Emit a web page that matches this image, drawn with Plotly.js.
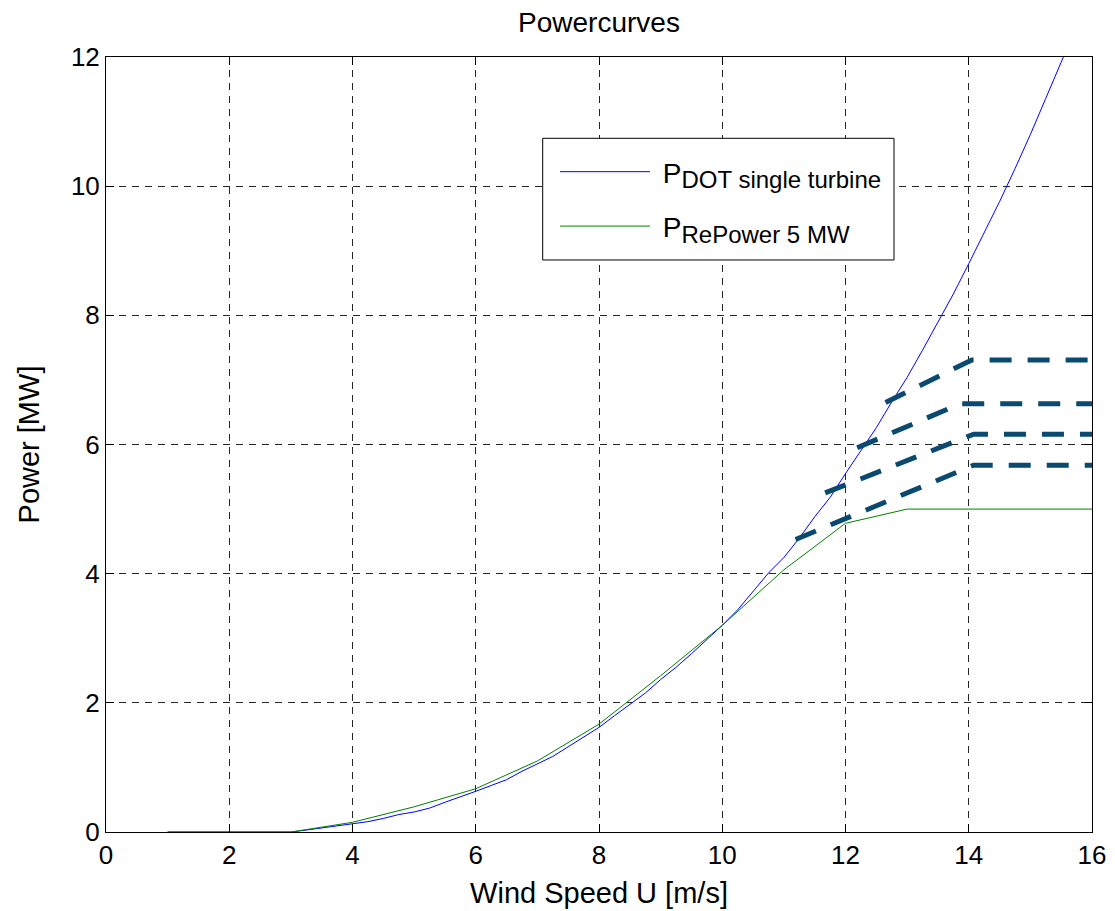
<!DOCTYPE html>
<html>
<head>
<meta charset="utf-8">
<script src="https://cdn.plot.ly/plotly-3.0.1.min.js"></script>
<style>
  html, body { margin: 0; padding: 0; background: #fff; }
  #chart { width: 1115px; height: 911px; }
</style>
</head>
<body>
<div id="chart"></div>
<script>
// Wind speed grid for DOT single turbine curve (m/s)
const dotSpeed = [1, 1.5, 2, 2.5, 3, 3.25, 3.5, 3.75, 4, 4.25, 4.5, 4.75, 5, 5.25, 5.5, 5.75,
  6, 6.25, 6.5, 6.75, 7, 7.25, 7.5, 7.75, 8, 8.25, 8.5, 8.75, 9, 9.25, 9.5, 9.75,
  10, 10.25, 10.5, 10.75, 11, 11.25, 11.5, 11.75, 12, 12.25, 12.5, 12.75, 13, 13.25, 13.5, 13.75,
  14, 14.25, 14.5, 14.75, 15, 15.25, 15.5, 15.75, 16];
// Power of DOT single turbine (MW)
const dotPower = [0, 0, 0, 0, 0, 0.03, 0.06, 0.09, 0.13, 0.16, 0.21, 0.27, 0.31, 0.37, 0.46, 0.54,
  0.63, 0.72, 0.81, 0.94, 1.05, 1.17, 1.32, 1.47, 1.62, 1.80, 1.98, 2.15, 2.36, 2.55, 2.76, 2.98,
  3.2, 3.44, 3.72, 4.01, 4.25, 4.55, 4.88, 5.18, 5.55, 5.9, 6.26, 6.66, 7.04, 7.46, 7.9, 8.33,
  8.8, 9.27, 9.76, 10.27, 10.8, 11.36, 11.92, 12.48, 13.1];

// RePower 5 MW curve
const repSpeed = [1, 2, 3, 4, 5, 6, 7, 8, 9, 10, 11, 12, 13, 14, 15, 16];
const repPower = [0, 0, 0, 0.15, 0.39, 0.67, 1.1, 1.67, 2.42, 3.2, 4.06, 4.78, 5.0, 5.0, 5.0, 5.0];

// Dashed limited power curves: start speed, corner speed, end speed, start power, rated power
const limStartSpeed = [12.65, 12.19, 11.67, 11.19];
const limCornerSpeed = [14.05, 13.86, 14.08, 14.08];
const limEndSpeed = [16, 16, 16, 16];
const limStartPower = [6.65, 5.95, 5.25, 4.53];
const limRatedPower = [7.31, 6.63, 6.16, 5.68];

const xTicks = [0, 2, 4, 6, 8, 10, 12, 14, 16];
const yTicks = [0, 2, 4, 6, 8, 10, 12];

const legendNames = ['DOT single turbine', 'RePower 5 MW'];

const FONT = 'Liberation Sans, Arial, Helvetica, sans-serif';

function legendLabel(sub) {
  return '&nbsp;P<sub><span style="font-size:24px">' + sub + '</span></sub>';
}

const traces = [
  {
    x: dotSpeed, y: dotPower, type: 'scatter', mode: 'lines',
    name: legendLabel(legendNames[0]),
    line: { color: '#0000ff', width: 1 },
    legendgroup: 'a'
  },
  {
    x: repSpeed, y: repPower, type: 'scatter', mode: 'lines',
    name: legendLabel(legendNames[1]),
    line: { color: '#008000', width: 1 },
    legendgroup: 'b'
  }
];

for (let i = 0; i < limStartSpeed.length; i++) {
  traces.push({
    x: [limStartSpeed[i], limCornerSpeed[i], limEndSpeed[i]],
    y: [limStartPower[i], limRatedPower[i], limRatedPower[i]],
    type: 'scatter', mode: 'lines', showlegend: false,
    line: { color: '#0a4a70', width: 5, dash: '22px,16px' },
    hoverinfo: 'skip'
  });
}

const axisCommon = {
  showline: true, linecolor: '#000', linewidth: 1, mirror: 'ticks',
  ticks: 'inside', ticklen: 8, tickwidth: 1, tickcolor: '#000',
  showgrid: true, gridcolor: 'rgba(0,0,0,0.85)', gridwidth: 1, griddash: '7px,6px',
  zeroline: false,
  tickfont: { family: FONT, size: 26, color: '#000' },
  tickmode: 'array'
};

const layout = {
  width: 1115, height: 911,
  margin: { l: 106, r: 23, t: 57, b: 79, pad: 0 },
  paper_bgcolor: '#fff', plot_bgcolor: '#fff',
  font: { family: FONT, color: '#000' },
  title: {
    text: 'Powercurves',
    font: { family: FONT, size: 28, color: '#000' },
    x: 0.5, xanchor: 'center', xref: 'paper',
    y: 1 - 22 / 911, yref: 'container', yanchor: 'middle'
  },
  xaxis: Object.assign({}, axisCommon, {
    range: [0, 16], tickvals: xTicks, ticktext: xTicks.map(String),
    title: { text: 'Wind Speed U [m/s]', font: { family: FONT, size: 29, color: '#000' }, standoff: 13 }
  }),
  yaxis: Object.assign({}, axisCommon, {
    range: [0, 12], tickvals: yTicks, ticktext: yTicks.map(String),
    title: { text: 'Power [MW]', font: { family: FONT, size: 29, color: '#000' }, standoff: 22 }
  }),
  shapes: [{
    type: 'rect', xref: 'paper', yref: 'paper',
    x0: 0.4429, x1: 0.7992, y0: 0.7381, y1: 0.8951,
    line: { color: '#000', width: 1 }, fillcolor: '#fff', layer: 'above'
  }],
  legend: {
    x: 0.4554, y: 0.8839, xanchor: 'left', yanchor: 'top',
    bgcolor: 'rgba(0,0,0,0)', borderwidth: 0,
    font: { family: FONT, size: 28, color: '#000' },
    itemwidth: 90, traceorder: 'grouped', tracegroupgap: 15
  },
  showlegend: true
};

Plotly.newPlot('chart', traces, layout, { displayModeBar: false, staticPlot: true });
</script>
</body>
</html>
